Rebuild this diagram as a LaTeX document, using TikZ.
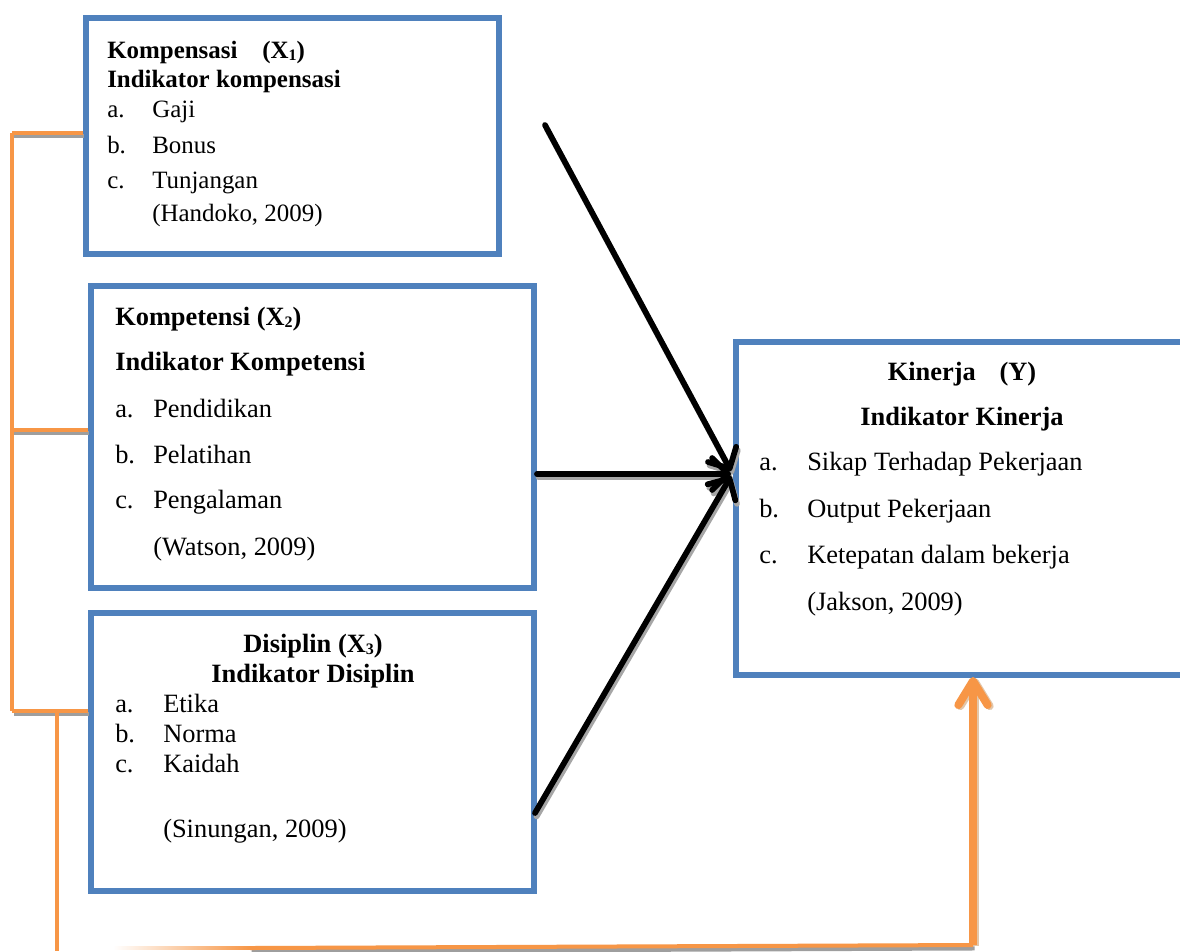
\documentclass[tikz,border=0pt]{standalone}
\usepackage{fontspec}
\setmainfont{Liberation Serif}
\usetikzlibrary{arrows.meta}
\definecolor{boxblue}{HTML}{4F81BD}
\definecolor{orgc}{HTML}{F79646}
\newcommand{\sbs}[1]{\raisebox{-0.08em}{\fontsize{12}{12}\selectfont #1}}
\begin{document}
\begin{tikzpicture}[x=0.75pt,y=-0.75pt,
  box/.style={draw=boxblue,line width=5pt,inner sep=0pt,fill=white},
  fA/.style={font=\fontsize{18.7}{22}\selectfont},
  fB/.style={font=\fontsize{19.8}{24}\selectfont},
  fAb/.style={font=\fontsize{18.7}{22}\selectfont\bfseries},
  fBb/.style={font=\fontsize{19.8}{24}\selectfont\bfseries},
  lt/.style={anchor=base west,inner sep=0pt},
  ct/.style={anchor=base,inner sep=0pt},
  blkhead/.style={-{Straight Barb[length=12pt,width=24pt,round]}},
  blk/.style={draw=black,line width=4.3pt,line cap=round,blkhead},
  blksh/.style={draw=black!35,line width=4.3pt,line cap=round,blkhead},
  org/.style={draw=orgc,line width=3pt},
  orgsh/.style={draw=black!38,line width=3pt},
  orghead/.style={-{Straight Barb[length=18pt,width=22pt,round]}},
  orgarrow/.style={draw=orgc,line width=6pt,orghead},
  orgarrowsh/.style={draw=brown!45!white,line width=6pt,orghead}
]
\useasboundingbox (0,0) rectangle (1180,951);
\clip (0,0) rectangle (1180,951);
\fill[white] (0,0) rectangle (1180,951);

% boxes
\node[box,minimum width=309.75pt,minimum height=177pt] (b1) at (292.5,136) {};
\node[box,minimum width=332.25pt,minimum height=226.5pt] (b2) at (312.5,437) {};
\node[box,minimum width=332.25pt,minimum height=208.5pt] (b3) at (312.5,752) {};
\node[box,minimum width=339pt,minimum height=249.75pt] (by) at (962,508.5) {};

% box 1 text
\node[lt,fAb] (t1a) at (107,58) {Kompensasi\hspace{1em}(X\sbs{1})};
\node[lt,fAb] (t1b) at (107,87) {Indikator kompensasi};
\node[lt,fA] (t1c) at (107,117) {a.};
\node[lt,fA] (t1d) at (152,117) {Gaji};
\node[lt,fA] (t1e) at (107,153) {b.};
\node[lt,fA] (t1f) at (152,153) {Bonus};
\node[lt,fA] (t1g) at (107,188) {c.};
\node[lt,fA] (t1h) at (152,188) {Tunjangan};
\node[lt,fA] (t1i) at (152,221) {(Handoko, 2009)};

% box 2 text
\node[lt,fBb] (t2a) at (115,325) {Kompetensi (X\sbs{2})};
\node[lt,fBb] (t2b) at (115,370) {Indikator Kompetensi};
\node[lt,fB] (t2c) at (115,417) {a.};
\node[lt,fB] (t2d) at (153,417) {Pendidikan};
\node[lt,fB] (t2e) at (115,463) {b.};
\node[lt,fB] (t2f) at (153,463) {Pelatihan};
\node[lt,fB] (t2g) at (115,508) {c.};
\node[lt,fB] (t2h) at (153,508) {Pengalaman};
\node[lt,fB] (t2i) at (153,555) {(Watson, 2009)};

% box 3 text
\node[ct,fBb] (t3a) at (313,652) {Disiplin (X\sbs{3})};
\node[ct,fBb] (t3b) at (313,682) {Indikator Disiplin};
\node[lt,fB] (t3c) at (115,712) {a.};
\node[lt,fB] (t3d) at (163,712) {Etika};
\node[lt,fB] (t3e) at (115,742) {b.};
\node[lt,fB] (t3f) at (163,742) {Norma};
\node[lt,fB] (t3g) at (115,772) {c.};
\node[lt,fB] (t3h) at (163,772) {Kaidah};
\node[lt,fB] (t3i) at (163,837) {(Sinungan, 2009)};

% box Y text
\node[ct,fBb] (tya) at (962,380) {Kinerja\hspace{0.9em}(Y)};
\node[ct,fBb] (tyb) at (962,425) {Indikator Kinerja};
\node[lt,fB] (tyc) at (759,470) {a.};
\node[lt,fB] (tyd) at (807,470) {Sikap Terhadap Pekerjaan};
\node[lt,fB] (tye) at (759,517) {b.};
\node[lt,fB] (tyf) at (807,517) {Output Pekerjaan};
\node[lt,fB] (tyg) at (759,563) {c.};
\node[lt,fB] (tyh) at (807,563) {Ketepatan dalam bekerja};
\node[lt,fB] (tyi) at (807,610) {(Jakson, 2009)};

% connector end points
\coordinate (s1) at (545,125);
\coordinate (s2) at (537,474);
\coordinate (s3) at (535,813);
\coordinate (tipA) at (731,471);
\coordinate (tipB) at (731,474);
\coordinate (tipC) at (731,476);
\coordinate (o1) at (12,133);
\coordinate (o2) at (12,430);
\coordinate (o3) at (12,711);
\coordinate (o1e) at (b1.west |- o1);
\coordinate (o2e) at (b2.west |- o2);
\coordinate (o3e) at (b3.west |- o3);
\coordinate (d1) at (57,711);
\coordinate (d2) at (57,951);
\coordinate (h1) at (250,948);
\coordinate (h2) at (973,945);
\coordinate (up) at (973,677);

% shadows
\begin{scope}[transform canvas={xshift=1.2pt,yshift=-2.6pt}]
\draw[blksh] (s1) -- (tipA);
\draw[blksh] (s2) -- (tipB);
\draw[blksh] (s3) -- (tipC);
\draw[orgsh] (o1) -- (o1e);
\draw[orgsh] (o2) -- (o2e);
\draw[orgsh] (o3) -- (o3e);
\draw[orgsh] (h1) -- (h2);
\end{scope}
\begin{scope}[transform canvas={xshift=1.5pt,yshift=-0.8pt}]
\draw[orgarrowsh] (h2) -- (up);
\end{scope}

% black arrows
\draw[blk] (s1) -- (tipA);
\draw[blk] (s2) -- (tipB);
\draw[blk] (s3) -- (tipC);

% orange connectors
\draw[org] (o1) -- (o3);
\draw[org] (o1) -- (o1e);
\draw[org] (o2) -- (o2e);
\draw[org] (o3) -- (o3e);
\draw[org] (d1) -- (d2);
\shade[left color=white,right color=orgc] (113,946.5) rectangle (251,949.5);
\draw[org] (h1) -- (h2);
\draw[orgarrow] (h2) -- (up);
\end{tikzpicture}
\end{document}
